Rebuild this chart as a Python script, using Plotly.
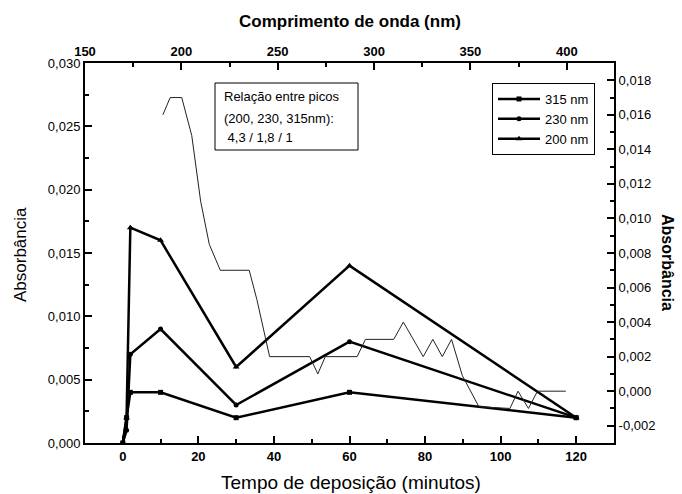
import plotly.graph_objects as go

# ---- data ----
tempo = [0, 1, 2, 10, 30, 60, 120]
abs_315 = [0.0, 0.002, 0.004, 0.004, 0.002, 0.004, 0.002]
abs_230 = [0.0, 0.001, 0.007, 0.009, 0.003, 0.008, 0.002]
abs_200 = [0.0, 0.002, 0.017, 0.016, 0.006, 0.014, 0.002]

comprimento_onda = [190.4, 194.2, 200.2, 205.4, 210.0, 214.5, 220.2, 235.2, 239.2, 245.8,
                    266.6, 270.8, 274.7, 291.2, 295.5, 310.2, 315.2, 325.5, 330.5, 335.4,
                    340.2, 345.8, 354.4, 370.5, 374.7, 380.1, 384.8, 399.5]
abs_espectro = [0.0160, 0.0170, 0.0170, 0.0148, 0.0110, 0.0085, 0.0070, 0.0070, 0.0053, 0.0020,
                0.0020, 0.0010, 0.0020, 0.0020, 0.0030, 0.0030, 0.0040, 0.0020, 0.0030, 0.0020,
                0.0030, 0.0009, -0.0009, -0.0010, 0.0000, -0.0010, 0.0000, 0.0000]

left_ticks = [0.0, 0.005, 0.010, 0.015, 0.020, 0.025, 0.030]
left_ticktext = ["0,000", "0,005", "0,010", "0,015", "0,020", "0,025", "0,030"]
right_ticks = [-0.002, 0.0, 0.002, 0.004, 0.006, 0.008, 0.010, 0.012, 0.014, 0.016, 0.018]
right_ticktext = ["-0,002", "0,000", "0,002", "0,004", "0,006", "0,008", "0,010",
                  "0,012", "0,014", "0,016", "0,018"]
bottom_ticks = [0, 20, 40, 60, 80, 100, 120]
top_ticks = [150, 200, 250, 300, 350, 400]
caixa_linhas = ["Relação entre picos", "(200, 230, 315nm):", " 4,3 / 1,8 / 1"]

FONT = "Arial, Liberation Sans, sans-serif"

# plot-area pixel geometry
L, R, T, B = 85, 614, 63, 443
W, H = R - L, B - T


def px(xp):
    return (xp - L) / W


def py(yp):
    return (B - yp) / H


fig = go.Figure()

fig.add_trace(go.Scatter(x=comprimento_onda, y=abs_espectro, xaxis="x2", yaxis="y2",
                         mode="lines", line=dict(color="#222222", width=1),
                         showlegend=False))
fig.add_trace(go.Scatter(x=tempo, y=abs_315, mode="lines+markers", name="315 nm",
                         line=dict(color="black", width=2.5),
                         marker=dict(symbol="square", size=5, color="black")))
fig.add_trace(go.Scatter(x=tempo, y=abs_230, mode="lines+markers", name="230 nm",
                         line=dict(color="black", width=2.5),
                         marker=dict(symbol="circle", size=5, color="black")))
fig.add_trace(go.Scatter(x=tempo, y=abs_200, mode="lines+markers", name="200 nm",
                         line=dict(color="black", width=2.5),
                         marker=dict(symbol="triangle-up", size=6, color="black")))

axis_common = dict(showline=True, linecolor="black", linewidth=2, showgrid=False,
                   zeroline=False, ticks="inside", ticklen=7, tickwidth=1.5,
                   tickcolor="black")

fig.update_layout(
    width=682, height=494,
    margin=dict(l=L, r=682 - R, t=T, b=494 - B),
    paper_bgcolor="white", plot_bgcolor="white",
    font=dict(family=FONT, color="black", size=13),
    xaxis=dict(range=[-10, 130], tickvals=bottom_ticks,
               tickfont=dict(size=13, weight="bold"),
               minor=dict(ticks="inside", ticklen=4, dtick=10, tick0=0, tickcolor="black"),
               **axis_common),
    yaxis=dict(range=[0, 0.030], tickvals=left_ticks, ticktext=left_ticktext,
               tickfont=dict(size=13),
               minor=dict(ticks="inside", ticklen=4, dtick=0.0025, tick0=0, tickcolor="black"),
               **axis_common),
    xaxis2=dict(range=[150, 424.5], overlaying="x", side="top", anchor="y",
                tickvals=top_ticks, tickfont=dict(size=13, weight="bold"),
                minor=dict(ticks="inside", ticklen=4, dtick=25, tick0=150, tickcolor="black"),
                **axis_common),
    yaxis2=dict(range=[-0.003, 0.019], overlaying="y", side="right", anchor="x",
                tickvals=right_ticks, ticktext=right_ticktext, tickfont=dict(size=13),
                minor=dict(ticks="inside", ticklen=4, dtick=0.001, tick0=0, tickcolor="black"),
                **axis_common),
    legend=dict(x=px(492), y=py(83), xanchor="left", yanchor="top",
                bgcolor="white", bordercolor="black", borderwidth=1,
                font=dict(size=13), tracegroupgap=0, itemwidth=42),
    showlegend=True,
)

annotations = [
    dict(text="<b>Comprimento de onda (nm)</b>", x=px(350), y=py(21),
         xanchor="center", yanchor="middle",
         xref="paper", yref="paper", showarrow=False, font=dict(size=17)),
    dict(text="Tempo de deposição (minutos)", x=px(351), y=py(482),
         xanchor="center", yanchor="middle",
         xref="paper", yref="paper", showarrow=False, font=dict(size=19)),
    dict(text="Absorbância", x=px(20), y=py(255), textangle=-90,
         xanchor="center", yanchor="middle",
         xref="paper", yref="paper", showarrow=False, font=dict(size=17)),
    dict(text="<b>Absorbância</b>", x=px(668), y=py(262), textangle=90,
         xanchor="center", yanchor="middle",
         xref="paper", yref="paper", showarrow=False, font=dict(size=16)),
]
for linha, yp in zip(caixa_linhas, [97, 118, 137]):
    annotations.append(dict(text=linha, x=px(222), y=py(yp), xanchor="left", yanchor="middle",
                            xref="paper", yref="paper", showarrow=False, font=dict(size=13)))
fig.update_layout(annotations=annotations)

fig.add_shape(type="rect", xref="paper", yref="paper",
              x0=px(215), x1=px(358), y0=py(150), y1=py(83),
              line=dict(color="black", width=1))

fig.write_html("out.html")
